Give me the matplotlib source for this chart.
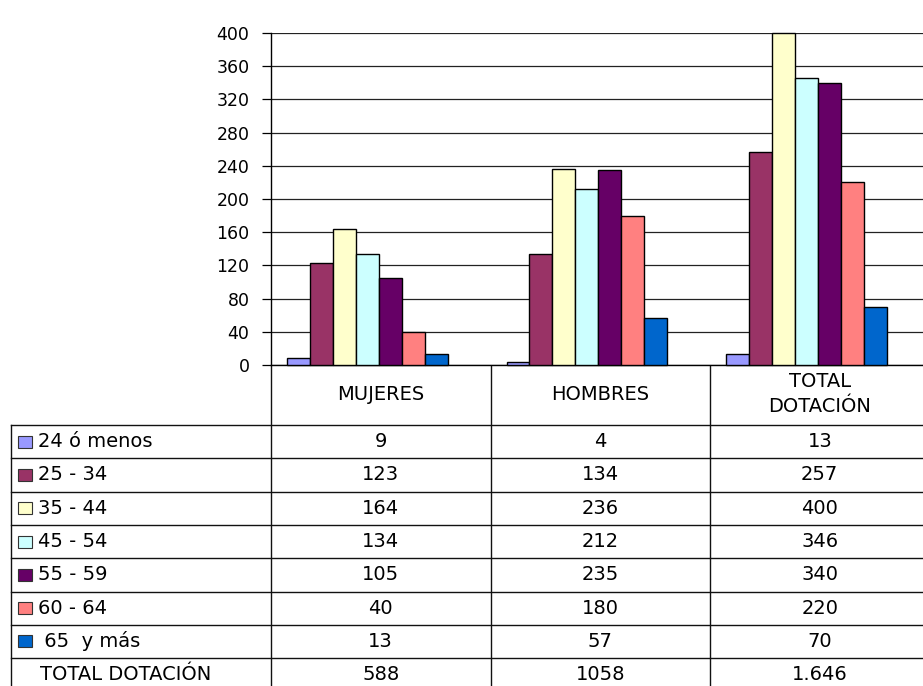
import matplotlib
matplotlib.use("Agg")
import matplotlib.pyplot as plt
from matplotlib.transforms import blended_transform_factory

plt.rcParams["font.family"] = ["DejaVu Sans"]

CATEGORIES = ["MUJERES", "HOMBRES", "TOTAL\nDOTACIÓN"]
AGE_GROUPS = ["24 ó menos", "25 - 34", "35 - 44", "45 - 54", "55 - 59", "60 - 64", " 65  y más"]
G_24 = [9, 4, 13]
G_25_34 = [123, 134, 257]
G_35_44 = [164, 236, 400]
G_45_54 = [134, 212, 346]
G_55_59 = [105, 235, 340]
G_60_64 = [40, 180, 220]
G_65 = [13, 57, 70]
TOTALS = ["588", "1058", "1.646"]
TOTAL_LABEL = "TOTAL DOTACIÓN"
YTICKS = list(range(0, 401, 40))

SERIES = [G_24, G_25_34, G_35_44, G_45_54, G_55_59, G_60_64, G_65]
COLORS = ["#9999FF", "#993366", "#FFFFCC", "#CCFFFF", "#660066", "#FF8080", "#0066CC"]

W, H = 923, 686
FS = 14
fig = plt.figure(figsize=(W / 100, H / 100), dpi=100)

# overlay in pixel coords for the data table
ov = fig.add_axes([0, 0, 1, 1])
ov.set_xlim(0, W); ov.set_ylim(H, 0); ov.axis("off")

# plot area: y-axis at x=271, 0 at y=365, 400 at y=33; category width ~219.5px
x0, y0, ytop, cw = 271, 365, 33, 219.5
ax = fig.add_axes([x0 / W, (H - y0) / H, 3 * cw / W, (y0 - ytop) / H])
ax.set_xlim(0, 3)
ax.set_ylim(0, 400)

bw = 0.1045
off = 0.073
for j, (vals, col) in enumerate(zip(SERIES, COLORS)):
    xs = [i + off + j * bw for i in range(len(CATEGORIES))]
    ax.bar(xs, vals, width=bw, align="edge", color=col, edgecolor="black",
           linewidth=1.0, zorder=3, clip_on=False)

ax.set_yticks(YTICKS)
ax.set_yticklabels([str(t) for t in YTICKS], fontsize=12.5)
ax.yaxis.grid(True, color="#222222", linewidth=0.9, zorder=0)
ax.set_axisbelow(True)
ax.tick_params(axis="y", direction="out", length=6.5, width=0.9, pad=9)
ax.set_xticks([])
for s in ["top", "right"]:
    ax.spines[s].set_visible(False)
ax.spines["left"].set_linewidth(1.0)
ax.spines["bottom"].set_linewidth(1.0)

# table: x from bar axes data, y in pixels
tr = blended_transform_factory(ax.transData, ov.transData)
LC = "#111111"
head_top, row0, rh = 365, 425, 33.3
n_rows = len(AGE_GROUPS) + 1
bottom = row0 + rh * n_rows

# vertical separators
ov.plot([x0, x0], [head_top, H], color=LC, lw=1.0, clip_on=False)
for i in range(1, len(CATEGORIES)):
    ov.plot([i, i], [head_top, bottom], color=LC, lw=1.0, transform=tr, clip_on=False)
ov.plot([10.7, 10.7], [row0, bottom], color=LC, lw=1.0)

# horizontal lines
for r in range(n_rows):
    y = row0 + r * rh
    ov.plot([10.7, W], [y, y], color=LC, lw=1.0)

# header row
for i, c in enumerate(CATEGORIES):
    ov.text(i + 0.5, (head_top + row0) / 2 - 1, c, transform=tr, ha="center",
            va="center", fontsize=FS, linespacing=1.45)

# body rows
for r, (lab, vals, col) in enumerate(zip(AGE_GROUPS, SERIES, COLORS)):
    yc = row0 + (r + 0.5) * rh
    ov.add_patch(plt.Rectangle((18, yc - 6), 14, 12, facecolor=col,
                               edgecolor="#333333", lw=0.8))
    ov.text(38, yc, lab, ha="left", va="center", fontsize=FS)
    for i, v in enumerate(vals):
        ov.text(i + 0.5, yc, str(v), transform=tr, ha="center", va="center", fontsize=FS)

yc = row0 + (n_rows - 0.5) * rh
ov.text(40, yc, TOTAL_LABEL, ha="left", va="center", fontsize=FS)
for i, v in enumerate(TOTALS):
    ov.text(i + 0.5, yc, v, transform=tr, ha="center", va="center", fontsize=FS)

fig.savefig("out.png", dpi=100, facecolor="white")
